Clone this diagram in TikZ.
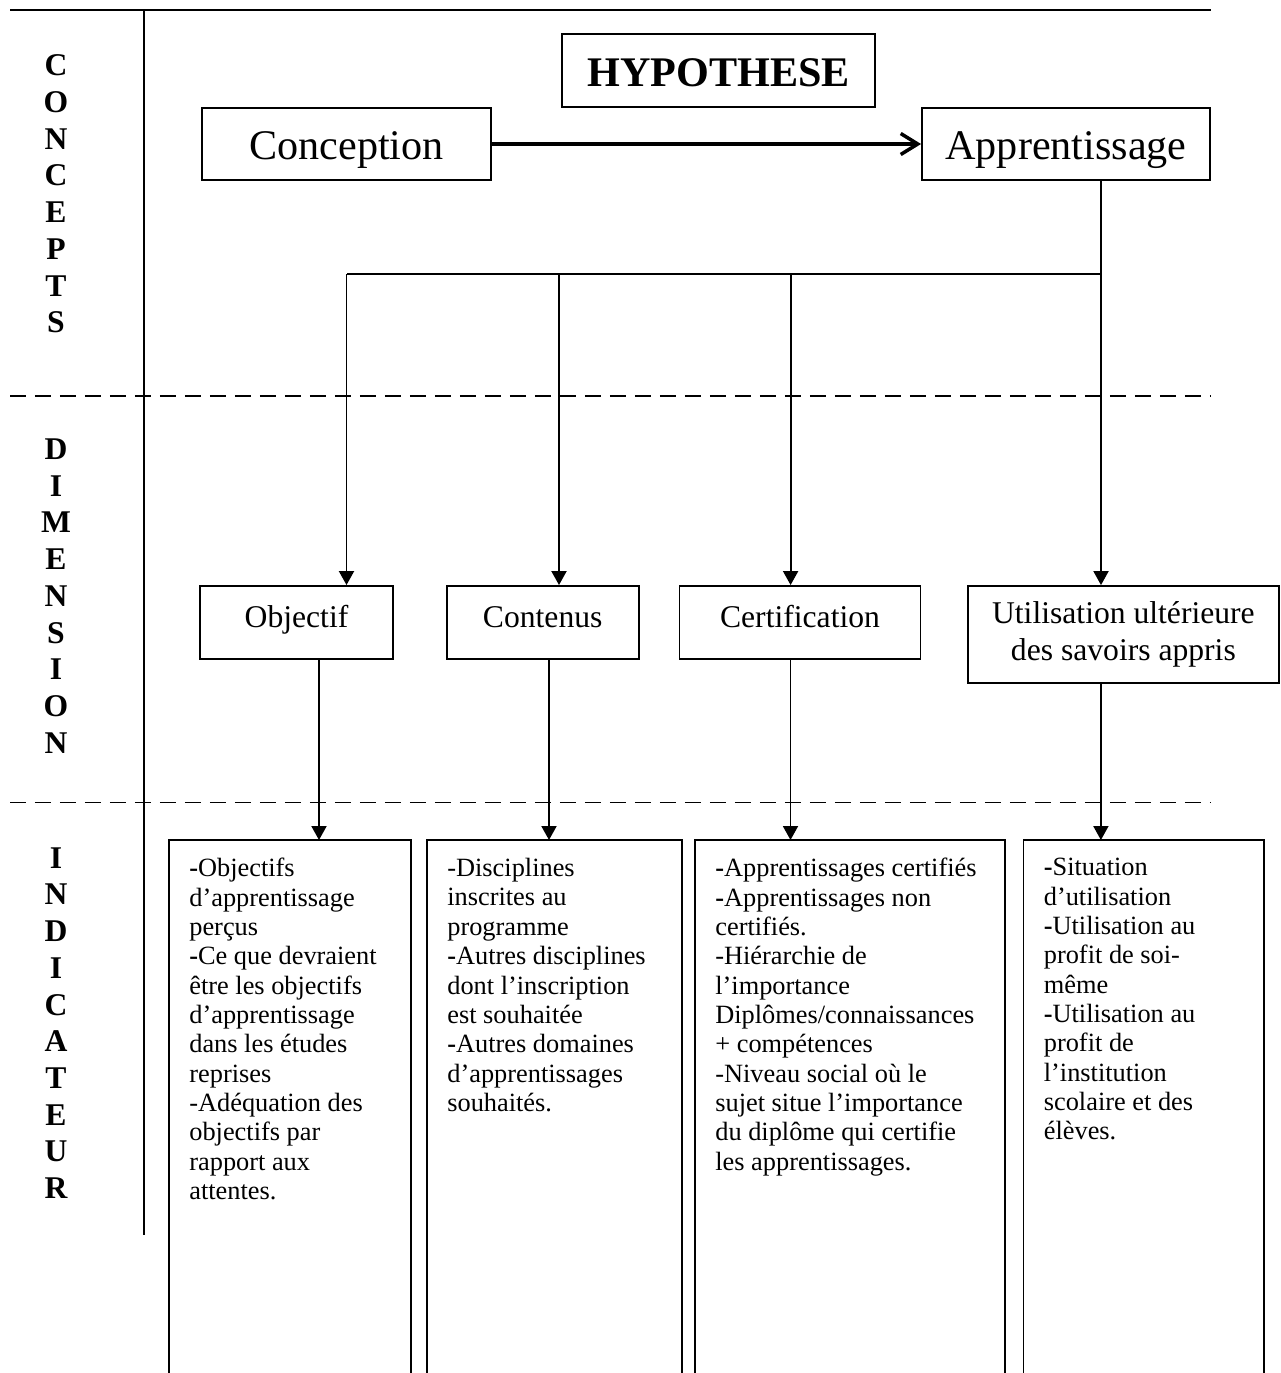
\documentclass[tikz,border=0pt]{standalone}
\usepackage{fontspec}
\setmainfont{Liberation Serif}
\usepackage{tikz}
\usetikzlibrary{arrows.meta, calc}

\tikzset{
  trait/.style={line width=1.1pt},
  tirets/.style={line width=1.1pt, dash pattern=on 0.32cm off 0.18cm},
  boite/.style={draw, line width=1.1pt, inner sep=0pt, align=center},
  fleche/.style={trait, -{Triangle[length=0.28cm, width=0.3cm]}},
  grosse/.style={line width=2pt, -{Straight Barb[length=0.34cm, width=0.42cm]}},
  lettres/.style={align=center, font=\fontsize{18}{20.9}\selectfont\bfseries},
  cadre/.style={inner sep=0pt, anchor=north west, minimum height=10.7cm},
  liste/.style={inner sep=0pt, anchor=north west, align=left,
    font=\fontsize{15}{16.7}\selectfont},
}

\begin{document}
\begin{tikzpicture}[x=0.02cm, y=-0.02cm]
\useasboundingbox (0,0) rectangle (1281,1373);

% frame of the table
\draw[trait] (10,10) -- (1211,10);
\draw[trait] (144,10) -- (144,1235);
\draw[tirets] (10,396) -- (1211,396);
\draw[tirets] (10,802.5) -- (1211,802.5);

\node[lettres] (concepts) at (56,194) {C\\O\\N\\C\\E\\P\\T\\S};
\node[lettres] (dimension) at (56,596) {D\\I\\M\\E\\N\\S\\I\\O\\N};
\node[lettres] (indicateur) at (56,1023) {I\\N\\D\\I\\C\\A\\T\\E\\U\\R};

% concepts
\tikzset{grand/.style={boite, minimum height=1.44cm, text height=22pt, text depth=4.7pt,
  font=\fontsize{24}{28}\selectfont}}
\node[boite, minimum width=6.26cm, minimum height=1.46cm, text height=18pt, text depth=0pt,
  font=\fontsize{24}{28}\selectfont\bfseries] (hyp) at (718.5,70.5) {HYPOTHESE};
\node[grand, minimum width=5.78cm] (conc) at (346.5,144) {Conception};
\node[grand, minimum width=5.76cm] (appr) at (1066,144) {Apprentissage};
\draw[grosse] (conc) -- (appr);

% dimensions
\tikzset{dim/.style={boite, minimum height=1.46cm, font=\fontsize{18}{20.9}\selectfont},
  un/.style={dim, text height=9.9pt, text depth=4.1pt}}
\node[un, minimum width=3.86cm] (obj) at (296.5,622.5) {Objectif};
\node[un, minimum width=3.84cm] (cont) at (542.7,622.5) {Contenus};
\node[un, minimum width=4.82cm] (cert) at (800,622.5) {Certification};
\node[dim, minimum width=6.22cm, minimum height=1.93cm] (util) at (1123.4,634.3)
  {Utilisation ultérieure\\des savoirs appris};

\coordinate (j1) at (346.5,274);
\coordinate (j2) at (559,274);
\coordinate (j3) at (790.6,274);
\coordinate (j4) at (1101,274);
\draw[trait] (appr.south -| j4) -- (j4) -- (j1);
\foreach \j/\n in {j1/obj, j2/cont, j3/cert, j4/util}
  \draw[fleche] (\j) -- (\j |- \n.north);

% indicateurs
\node[cadre, minimum width=4.82cm] (ind1) at (169,840) {};
\node[cadre, minimum width=5.08cm] (ind2) at (427,840) {};
\node[cadre, minimum width=6.18cm] (ind3) at (695,840) {};
\node[cadre, minimum width=4.79cm] (ind4) at (1023.5,840) {};
\foreach \i in {ind1, ind2, ind3, ind4}
  \draw[trait] (\i.south west) |- (\i.north east) -- (\i.south east);

\foreach \n/\s/\i in {obj/0.45/ind1, cont/0.126/ind2, cert/-0.19/ind3, util/-0.45/ind4} {
  \coordinate (o) at ([xshift=\s cm]\n.south);
  \draw[fleche] (o) -- (o |- \i.north);
}

\node[liste] (txt1) at ([xshift=0.4cm, yshift=-0.36cm]ind1.north west)
  {\textbf{-}Objectifs\\d’apprentissage\\perçus\\\textbf{-}Ce que devraient\\être les objectifs\\d’apprentissage\\dans les études\\reprises\\-Adéquation des\\objectifs par\\rapport aux\\attentes.};
\node[liste] (txt2) at ([xshift=0.4cm, yshift=-0.36cm]ind2.north west)
  {-Disciplines\\inscrites au\\programme\\\textbf{-}Autres disciplines\\dont l’inscription\\est souhaitée\\\textbf{-}Autres domaines\\d’apprentissages\\souhaités.};
\node[liste] (txt3) at ([xshift=0.4cm, yshift=-0.36cm]ind3.north west)
  {\textbf{-}Apprentissages certifiés\\\textbf{-}Apprentissages non\\certifiés.\\-Hiérarchie de\\l’importance\\Diplômes/connaissances\\+ compétences\\-Niveau social où le\\sujet situe l’importance\\du diplôme qui certifie\\les apprentissages.};
\node[liste] (txt4) at ([xshift=0.4cm, yshift=-0.36cm]ind4.north west)
  {\textbf{-}Situation\\d’utilisation\\\textbf{-}Utilisation au\\profit de soi-\\même\\\textbf{-}Utilisation au\\profit de\\l’institution\\scolaire et des\\élèves.};
\end{tikzpicture}
\end{document}
